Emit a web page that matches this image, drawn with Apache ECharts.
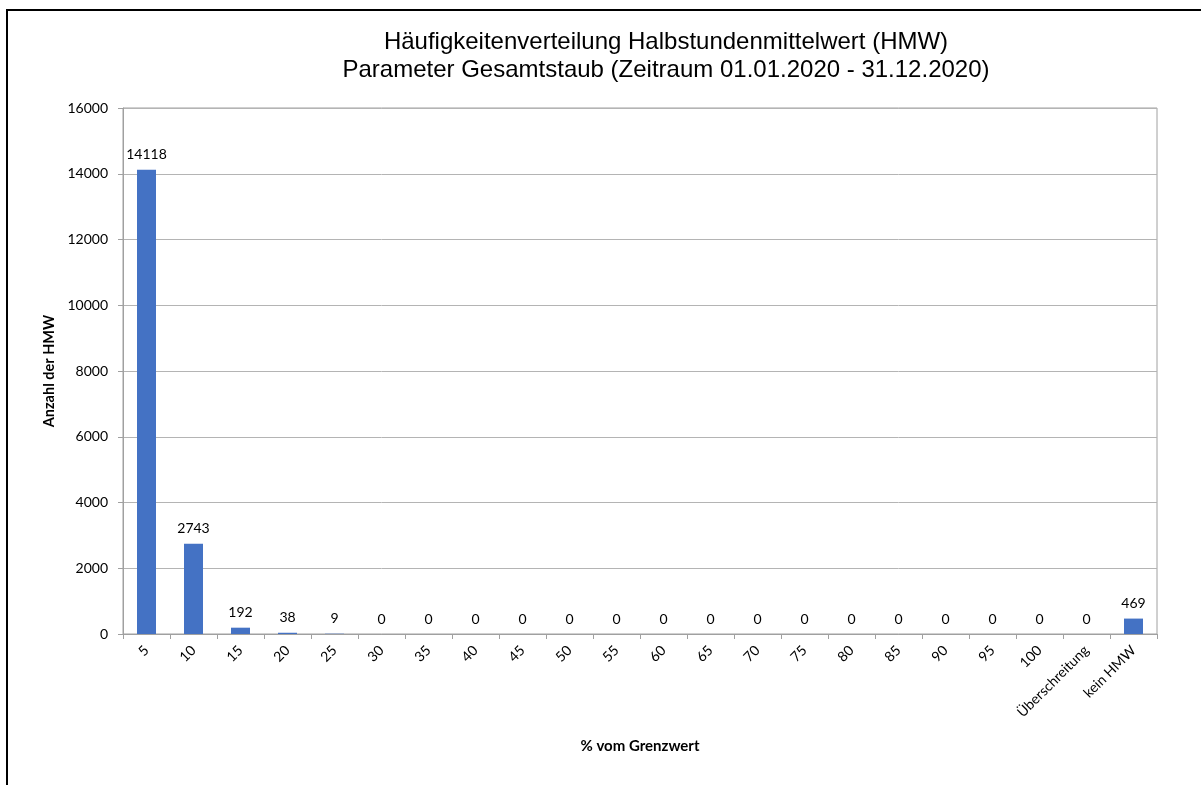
<!DOCTYPE html>
<html>
<head>
<meta charset="utf-8">
<script src="https://cdn.jsdelivr.net/npm/echarts@6/dist/echarts.min.js"></script>
<style>
html, body { margin: 0; padding: 0; background: #fff; }
#chart { width: 1201px; height: 785px; }
</style>
</head>
<body>
<div id="chart"></div>
<script>
// Häufigkeitsverteilung HMW Gesamtstaub 2020
const categories = ['5', '10', '15', '20', '25', '30', '35', '40', '45', '50', '55', '60', '65', '70', '75', '80', '85', '90', '95', '100', 'Überschreitung', 'kein HMW']
const values = [14118, 2743, 192, 38, 9, 0, 0, 0, 0, 0, 0, 0, 0, 0, 0, 0, 0, 0, 0, 0, 0, 469]
const titleLines = ['Häufigkeitenverteilung Halbstundenmittelwert (HMW)', 'Parameter Gesamtstaub (Zeitraum 01.01.2020 - 31.12.2020)']

const labelFont = 'Lato, "Open Sans", sans-serif'
const chart = echarts.init(document.getElementById('chart'))
const option = {
    animation: false,
    title: {
        text: titleLines.join('\n'),
        left: 661, top: 23, textAlign: 'center',
        textStyle: { fontFamily: '"Liberation Sans", Arial', fontSize: 24, fontWeight: 'normal', color: '#000', lineHeight: 28 }
    },
    graphic: [{
        type: 'rect',
        shape: { x: 7, y: 10, width: 1400, height: 1000 },
        style: { fill: 'none', stroke: '#000', lineWidth: 2 }
    }],
    grid: {
        left: 123, right: 44, top: 108, bottom: 151,
        show: true, borderColor: '#a0a0a0', borderWidth: 1
    },
    xAxis: {
        type: 'category',
        data: categories,
        name: '% vom Grenzwert',
        nameLocation: 'middle',
        nameGap: 105,
        nameTextStyle: { fontFamily: labelFont, fontSize: 15, fontWeight: 'bold', color: '#000' },
        axisLine: { lineStyle: { color: '#a0a0a0' } },
        axisTick: { show: true, length: 5, lineStyle: { color: '#a0a0a0' } },
        axisLabel: { rotate: 45, interval: 0, margin: 14, fontFamily: labelFont, fontSize: 14, color: '#000' }
    },
    yAxis: {
        type: 'value',
        min: 0, max: 16000, interval: 2000,
        name: 'Anzahl der HMW',
        nameLocation: 'middle',
        nameGap: 58,
        nameTextStyle: { fontFamily: labelFont, fontSize: 14.5, fontWeight: 'bold', color: '#000' },
        axisLine: { show: true, lineStyle: { color: '#a0a0a0' } },
        axisTick: { show: true, length: 5, lineStyle: { color: '#a0a0a0' } },
        axisLabel: { margin: 15, fontFamily: labelFont, fontSize: 14, color: '#000', formatter: v => String(v) },
        splitLine: { lineStyle: { color: '#b4b4b4' } }
    },
    series: [{
        type: 'bar',
        data: values,
        barWidth: 19,
        itemStyle: { color: '#4472c4' },
        label: {
            show: true, position: 'top', distance: 8,
            fontFamily: labelFont, fontSize: 14, color: '#000'
        }
    }]
}
chart.setOption(option)
</script>
</body>
</html>
